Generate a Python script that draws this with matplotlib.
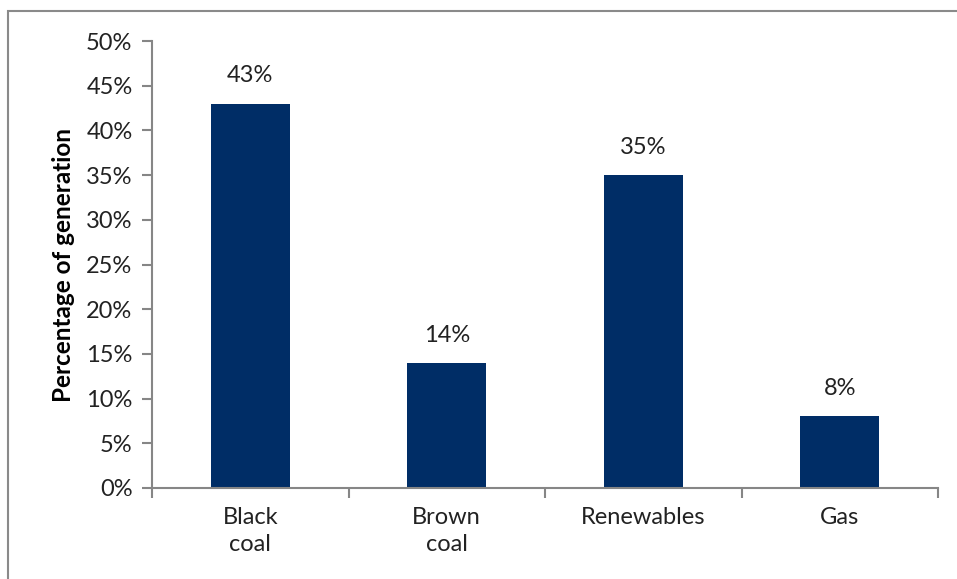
import matplotlib.pyplot as plt
from matplotlib.patches import Rectangle
from matplotlib.ticker import FuncFormatter, MultipleLocator

categories = ['Black\ncoal', 'Brown\ncoal', 'Renewables', 'Gas']
shares = [43, 14, 35, 8]

plt.rcParams['font.family'] = ['Lato', 'DejaVu Sans']

fig = plt.figure(figsize=(9.57, 5.79), dpi=100)
ax = fig.add_axes([152 / 957, 91 / 579, 786 / 957, 447 / 579])

# outer chart border (runs off the right and bottom edges)
fig.add_artist(Rectangle((8 / 957, -0.1), 1.2, (579 - 11) / 579 + 0.1,
                         transform=fig.transFigure, fill=False,
                         edgecolor='#8a8a8a', linewidth=1.5))

x = range(len(categories))
bars = ax.bar(x, shares, width=0.4, color='#002d66')
for b, v in zip(bars, shares):
    ax.annotate(f'{v}%', (b.get_x() + b.get_width() / 2, v),
                xytext=(0, 20), textcoords='offset points',
                ha='center', va='center', fontsize=17, color='#222222')

ax.set_xlim(-0.5, len(categories) - 0.5)
ax.set_ylim(0, 50)
ax.yaxis.set_major_locator(MultipleLocator(5))
ax.yaxis.set_major_formatter(FuncFormatter(lambda v, _: f'{v:.0f}%'))

ax.set_xticks(x)
ax.set_xticklabels(categories, fontsize=17, color='#222222', linespacing=1.35)
ax.set_xticks([i - 0.5 for i in range(len(categories) + 1)], minor=True)
ax.tick_params(axis='x', which='major', length=0, pad=14)
ax.tick_params(axis='x', which='minor', length=7, color='#868686', width=1.5)
ax.tick_params(axis='y', length=7, color='#868686', width=1.5,
               labelsize=17, labelcolor='#222222', pad=7)

for s in ['top', 'right']:
    ax.spines[s].set_visible(False)
for s in ['left', 'bottom']:
    ax.spines[s].set_color('#868686')
    ax.spines[s].set_linewidth(1.5)

ax.set_ylabel('Percentage of generation', fontsize=17.5, fontweight='bold',
              labelpad=8)

fig.savefig('out.png', dpi=100)
